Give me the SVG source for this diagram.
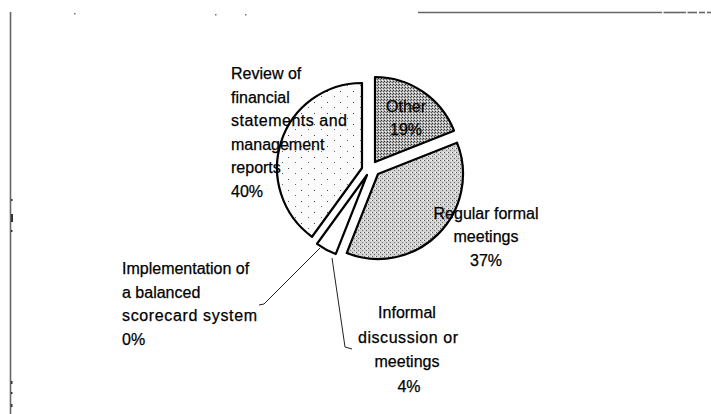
<svg xmlns="http://www.w3.org/2000/svg" width="711" height="414" viewBox="0 0 711 414">
  <style>
    .lbl { font-family: "Liberation Sans", Arial, sans-serif; font-size: 16px; fill: #000; stroke: #000; stroke-width: 0.25; }
    .mid { text-anchor: middle; }
    .slice { stroke: #000; stroke-width: 2.2; stroke-linejoin: round; }
    .leader { fill: none; stroke: #222; stroke-width: 1; }
    .frame { stroke: #666; stroke-width: 1.6; fill: none; }
  </style>
  <defs>
    <!-- light stipple for the largest slice -->
    <pattern id="stippleLight" width="13" height="11" patternUnits="userSpaceOnUse">
      <rect width="13" height="11" fill="#fbfbfb"/>
      <rect x="2" y="3" width="1" height="1" fill="#444"/>
      <rect x="9" y="8" width="1" height="1" fill="#666"/>
    </pattern>
    <!-- medium dither -->
    <pattern id="ditherMid" width="4" height="4" patternUnits="userSpaceOnUse">
      <rect width="4" height="4" fill="#d2d2d2"/>
      <rect x="0" y="0" width="1" height="1" fill="#555"/>
      <rect x="2" y="2" width="1" height="1" fill="#777"/>
      <rect x="3" y="0" width="1" height="1" fill="#fff"/>
    </pattern>
    <!-- dark dither -->
    <pattern id="ditherDark" width="3" height="3" patternUnits="userSpaceOnUse">
      <rect width="3" height="3" fill="#b4b4b4"/>
      <rect x="0" y="0" width="1" height="1" fill="#333"/>
      <rect x="2" y="1" width="1" height="1" fill="#555"/>
      <rect x="1" y="2" width="1" height="1" fill="#fff"/>
    </pattern>
  </defs>

  <!-- frame fragments -->
  <g id="frame">
    <line class="frame" x1="10.5" y1="12" x2="10.5" y2="414"/>
    <line class="frame" x1="418" y1="12.5" x2="662" y2="12.5"/>
    <line class="frame" x1="663.5" y1="12.5" x2="686" y2="12.5"/>
    <line class="frame" x1="687.5" y1="12.5" x2="697" y2="12.5"/>
    <line class="frame" x1="699" y1="12.5" x2="705" y2="12.5"/>
    <line class="frame" x1="707" y1="12.5" x2="711" y2="12.5"/>
    <rect x="74" y="13" width="1.5" height="1.5" fill="#777"/>
    <rect x="215" y="14" width="1.5" height="1.5" fill="#777"/>
    <rect x="245" y="14" width="1.5" height="1.5" fill="#777"/>
    <rect x="11" y="199" width="1.5" height="2" fill="#333"/>
    <rect x="11" y="214" width="2" height="8" fill="#333"/>
    <rect x="11" y="230" width="1.5" height="2" fill="#333"/>
    <rect x="11" y="381" width="1.5" height="3" fill="#333"/>
    <rect x="11" y="392" width="1.5" height="2" fill="#333"/>
    <rect x="11" y="404" width="1.5" height="3" fill="#333"/>
  </g>

  <!-- leader lines -->
  <g id="connectors">
    <polyline class="leader" points="320,248 264,304 259,305"/>
    <polyline class="leader" points="332,258 345,347 352,349"/>
  </g>

  <g id="slice-review">
    <path class="slice" fill="url(#stippleLight)" d="M362,168 L312.04,236.77 A85,85 0 0 1 362,83 Z"/>
  </g>
  <g id="slice-other">
    <path class="slice" fill="url(#ditherDark)" d="M375,162 L375,77 A85,85 0 0 1 454.03,130.71 Z"/>
  </g>
  <g id="slice-regular">
    <path class="slice" fill="url(#ditherMid)" d="M378,174 L457.03,142.71 A85,85 0 0 1 346.71,253.03 Z"/>
  </g>
  <g id="slice-informal">
    <path class="slice" fill="#fff" d="M367,175 L335.71,254.03 A85,85 0 0 1 317.04,243.77 Z"/>
  </g>

  <g id="label-review">
    <text class="lbl" x="231" y="79">Review of</text>
    <text class="lbl" x="231" y="102.5">financial</text>
    <text class="lbl" x="231" y="126" textLength="116" lengthAdjust="spacing">statements and</text>
    <text class="lbl" x="231" y="149.5">management</text>
    <text class="lbl" x="231" y="173">reports</text>
    <text class="lbl" x="231" y="196.5">40%</text>
  </g>
  <g id="label-other">
    <text class="lbl mid" x="406" y="112">Other</text>
    <text class="lbl mid" x="406" y="135">19%</text>
  </g>
  <g id="label-regular">
    <text class="lbl mid" x="486" y="218.5">Regular formal</text>
    <text class="lbl mid" x="486" y="242">meetings</text>
    <text class="lbl mid" x="486" y="266">37%</text>
  </g>
  <g id="label-informal">
    <text class="lbl mid" x="407" y="318">Informal</text>
    <text class="lbl mid" x="408" y="342.5" textLength="100" lengthAdjust="spacing">discussion or</text>
    <text class="lbl mid" x="407" y="367">meetings</text>
    <text class="lbl mid" x="409" y="391.5">4%</text>
  </g>
  <g id="label-implementation">
    <text class="lbl" x="122" y="274">Implementation of</text>
    <text class="lbl" x="122" y="297.5">a balanced</text>
    <text class="lbl" x="122" y="321" textLength="135" lengthAdjust="spacing">scorecard system</text>
    <text class="lbl" x="122" y="344.5">0%</text>
  </g>
</svg>
